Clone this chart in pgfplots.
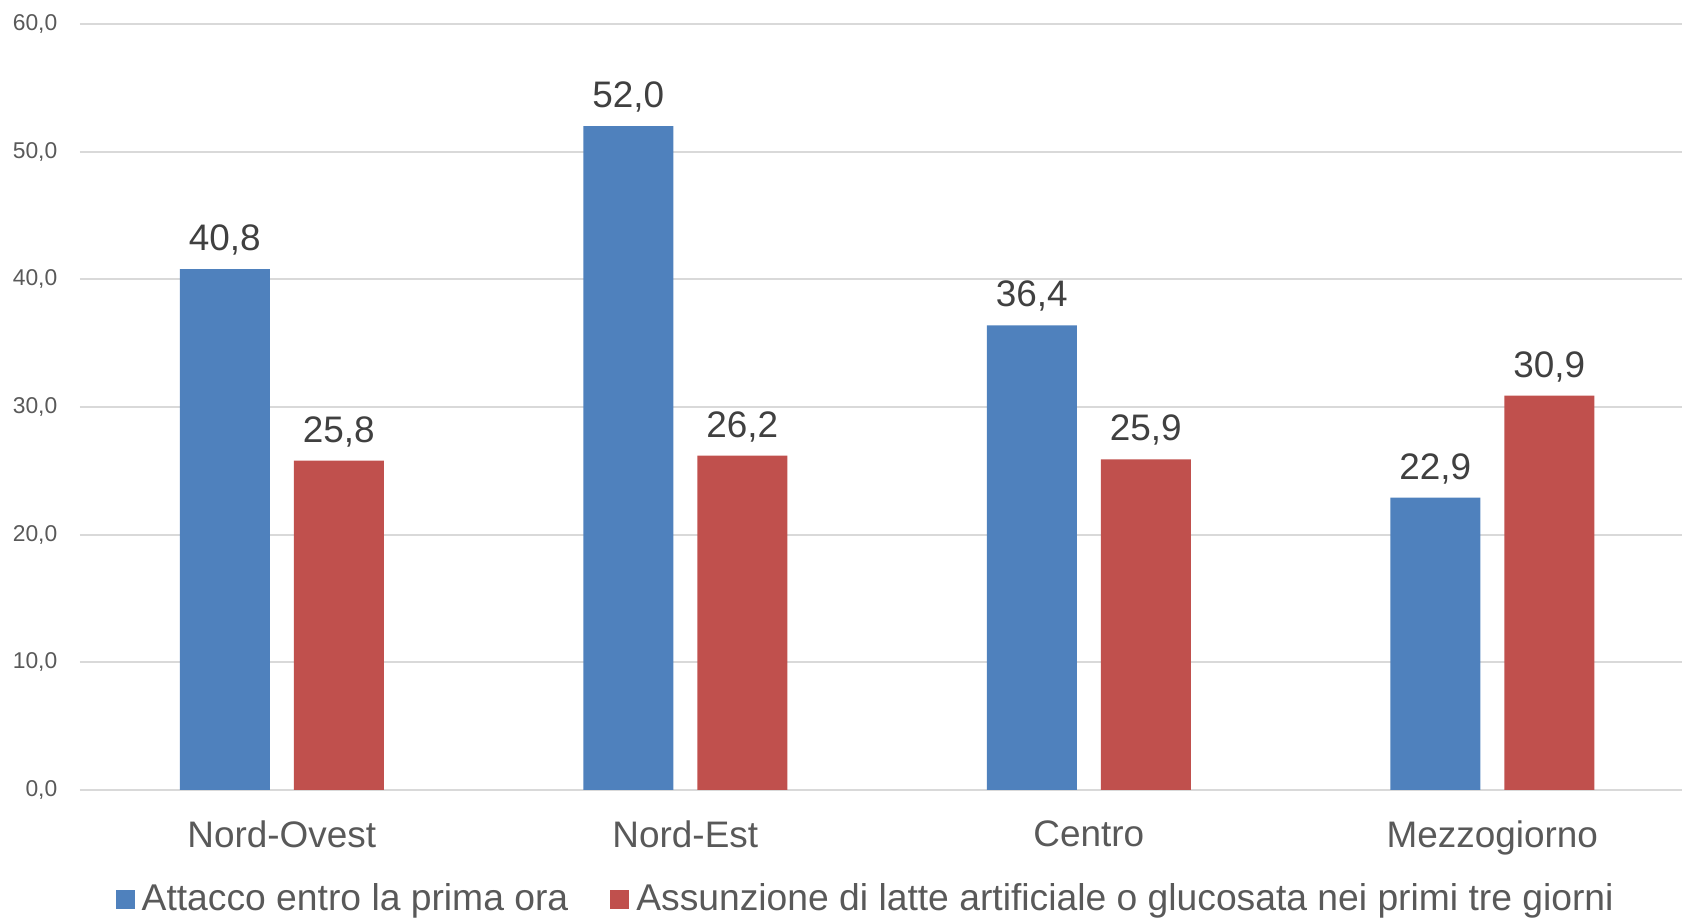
\documentclass[border=0pt]{standalone}
\usepackage{fontspec}
\setmainfont{Liberation Sans}
\usepackage{pgfplots}
\pgfplotsset{compat=1.18}

\definecolor{serieA}{HTML}{4F81BD}
\definecolor{serieB}{HTML}{C0504D}
\definecolor{griglia}{HTML}{D9D9D9}
\definecolor{testoasse}{HTML}{595959}
\definecolor{testoval}{HTML}{404040}

\begin{document}
\begin{tikzpicture}
\begin{axis}[
  scale only axis,
  width=160.2mm, height=76.6mm,
  xmin=-0.5, xmax=3.47,
  ymin=0, ymax=60,
  ybar=2.4mm,
  bar width=9mm,
  ytick={0,10,20,30,40,50,60},
  xtick={0,1,2,3},
  xticklabels={Nord-Ovest,Nord-Est,Centro,Mezzogiorno},
  ymajorgrids,
  grid style={griglia, line width=0.6pt},
  axis line style={draw=none},
  major tick length=0pt,
  tick style={draw=none},
  clip=false,
  /pgf/number format/.cd, use comma, fixed, fixed zerofill, precision=1, assume math mode=true,
  /pgfplots/.cd,
  yticklabel style={font=\fontsize{6.5}{7.8}\selectfont, text=testoasse, anchor=east, inner sep=0pt, xshift=-2.2mm},
  xticklabel style={font=\fontsize{10.5}{12.6}\selectfont, text=testoasse, anchor=north, inner sep=0pt, yshift=-3mm},
  nodes near coords,
  nodes near coords style={font=\fontsize{10.5}{12.6}\selectfont, text=testoval, anchor=south, inner sep=0pt, yshift=1.3mm,
    /pgf/number format/.cd, use comma, fixed, fixed zerofill, precision=1, assume math mode=true},
  legend columns=2,
  legend style={at={(0.492,-0.1436)}, anchor=center, draw=none, fill=none,
    font=\fontsize{10.6}{12.7}\selectfont, text=testoasse,
    /tikz/every even column/.append style={column sep=3.5mm}},
  legend image code/.code={\fill[#1] (0mm,-0.95mm) rectangle (1.9mm,0.95mm);},
]
\addplot[fill=serieA, draw=none] coordinates {(0,40.8) (1,52.0) (2,36.4) (3,22.9)};
\addlegendentry{Attacco entro la prima ora}
\addplot[fill=serieB, draw=none] coordinates {(0,25.8) (1,26.2) (2,25.9) (3,30.9)};
\addlegendentry{Assunzione di latte artificiale o glucosata nei primi tre giorni}
\coordinate (bl) at (rel axis cs:0,0);
\coordinate (tr) at (rel axis cs:1,1);
\end{axis}
\pgfresetboundingbox
\path[use as bounding box] ([xshift=-8mm,yshift=-12.9mm]bl) rectangle ([yshift=2.4mm]tr);
\end{tikzpicture}
\end{document}
